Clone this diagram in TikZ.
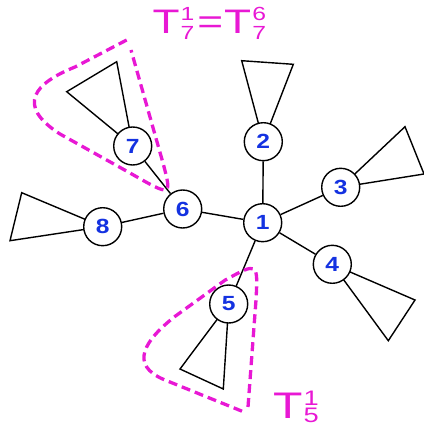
\documentclass[tikz,border=0pt]{standalone}
\usepackage{fontspec}
\setmainfont{Liberation Sans}[FakeStretch=1.2]
\newfontfamily\labfont{Liberation Sans}[FakeStretch=1.3]
\usetikzlibrary{backgrounds}
\definecolor{mag}{RGB}{232,24,212}
\definecolor{numblue}{RGB}{20,50,225}
\newcommand\Tlab[6]{{\fontsize{#1}{#1}\selectfont T}\kern1pt{\fontsize{#2}{#2}\selectfont\rlap{\raisebox{#5}{#3}}\raisebox{-#6}{#4}}}
\begin{document}
\begin{tikzpicture}[x=1pt,y=-1pt,
  vtx/.style={circle,draw,line width=1.4pt,fill=white,minimum size=38pt,inner sep=0pt,
    font=\fontsize{20.5}{20.5}\selectfont\bfseries,text=numblue},
  edge/.style={line width=1.4pt},
  subtree/.style={line width=1.4pt,line join=miter},
  region/.style={mag,line width=3.3pt,dash pattern=on 9pt off 5pt},
  lab/.style={mag,inner sep=0pt,anchor=base west,font=\labfont\fontsize{34}{34}\selectfont}]
\useasboundingbox (0,0) rectangle (423,430);
\node[vtx] (n1) at (262.7,222.7) {1};
\node[vtx] (n2) at (263.3,141.7) {2};
\node[vtx] (n3) at (340.7,187.3) {3};
\node[vtx] (n4) at (332.3,264.3) {4};
\node[vtx] (n5) at (228.7,304) {5};
\node[vtx] (n6) at (182.7,209) {6};
\node[vtx] (n7) at (132.7,146) {7};
\node[vtx] (n8) at (102.7,226.7) {8};
\begin{scope}[on background layer]
\draw[edge] (n1) -- (n2);
\draw[edge] (n1) -- (n3);
\draw[edge] (n1) -- (n4);
\draw[edge] (n1) -- (n5);
\draw[edge] (n1) -- (n6);
\draw[edge] (n6) -- (n7);
\draw[edge] (n6) -- (n8);
\draw[subtree] (n2.center) -- (241.7,60.7) -- (293.3,64.3) -- cycle;
\draw[subtree] (n3.center) -- (405,126.7) -- (424,174) -- cycle;
\draw[subtree] (n4.center) -- (415,300) -- (388.3,340.7) -- cycle;
\draw[subtree] (n5.center) -- (180,369) -- (223.3,389) -- cycle;
\draw[subtree] (n7.center) -- (116.7,61.7) -- (66.7,91.7) -- cycle;
\draw[subtree] (n8.center) -- (21.7,192.7) -- (10,240.7) -- cycle;
\end{scope}
% subtree regions
\draw[region] (126.7,40) -- (75,67) .. controls (35,83) and (15,105) .. (60,134) -- (130,173)
  .. controls (172,197) .. (163,163) -- (131,50);
\draw[region] (248,407) -- (256,300) .. controls (258,262) .. (225,280.2)
  -- (175,316.4) .. controls (145,340) and (128,365) .. (165,380) -- (244,412);
\node[lab] (t7) at (152.5,33.3) {\Tlab{34}{19}{1}{7}{12.7pt}{6.7pt}\kern3pt=\kern1pt\Tlab{34}{19}{6}{7}{12.7pt}{6.7pt}};
\node[lab] (t5) at (273,418.3) {\Tlab{37}{21}{1}{5}{13.3pt}{4.4pt}};
\end{tikzpicture}
\end{document}
